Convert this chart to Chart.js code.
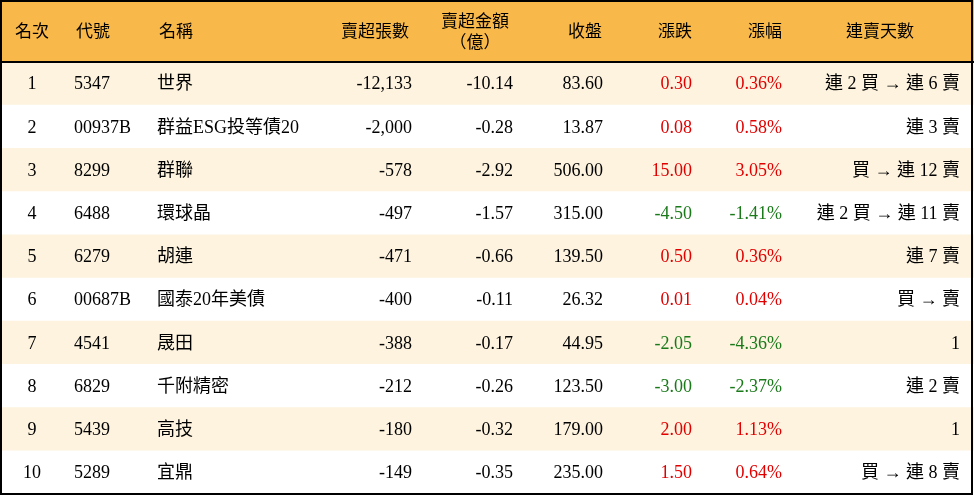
<!DOCTYPE html>
<html><head><meta charset="utf-8">
<script src="https://cdn.jsdelivr.net/npm/chart.js@4/dist/chart.umd.min.js"></script>
<style>html,body{margin:0;padding:0;background:#fff}#w{width:974px;height:496px}</style>
</head><body><div id="w"><canvas id="c"></canvas></div>
<script>
const headers = ["名次","代號","名稱","賣超張數","賣超金額\n（億）","收盤","漲跌","漲幅","連賣天數"];
const ranks = ["1","2","3","4","5","6","7","8","9","10"];
const codes = ["5347","00937B","8299","6488","6279","00687B","4541","6829","5439","5289"];
const names = ["世界","群益ESG投等債20","群聯","環球晶","胡連","國泰20年美債","晟田","千附精密","高技","宜鼎"];
const sellLots = [-12133,-2000,-578,-497,-471,-400,-388,-212,-180,-149];
const sellAmt = [-10.14,-0.28,-2.92,-1.57,-0.66,-0.11,-0.17,-0.26,-0.32,-0.35];
const closes = [83.60,13.87,506.00,315.00,139.50,26.32,44.95,123.50,179.00,235.00];
const changes = [0.30,0.08,15.00,-4.50,0.50,0.01,-2.05,-3.00,2.00,1.50];
const pcts = [0.36,0.58,3.05,-1.41,0.36,0.04,-4.36,-2.37,1.13,0.64];
const streaks = ["連 2 買 → 連 6 賣","連 3 賣","買 → 連 12 賣","連 2 買 → 連 11 賣","連 7 賣","買 → 賣","1","連 2 賣","1","買 → 連 8 賣"];

const cols = [[32,'center'],[74,'left'],[157,'left'],[412,'right'],[513,'right'],[603,'right'],[692,'right'],[782,'right'],[960,'right']];
const headX = [32,93,176,375,475,585,675,765,880];
const HEAD_H = 62;
const serif = '"Liberation Serif","Noto Sans CJK TC",serif';
const cjk = '"Noto Sans CJK TC",sans-serif';

function fmtInt(v){return v.toLocaleString('en-US');}
function col(v){return v>0?'#e00000':(v<0?'#1a7a1a':'#000');}

const tablePlugin = {
  id:'table',
  beforeDraw(chart){
    const ctx=chart.ctx;
    ctx.save();ctx.fillStyle='#fff';ctx.fillRect(0,0,chart.width,chart.height);
    ctx.fillStyle='#f8b84a';ctx.fillRect(0,0,chart.width,HEAD_H);ctx.restore();
  },
  afterDatasetsDraw(chart){
    const ctx=chart.ctx, y=chart.scales.y, x=chart.scales.x;
    ctx.save();
    ctx.textBaseline='middle';
    ctx.fillStyle='#000';
    ctx.font='17px '+cjk;
    headers.forEach((h,i)=>{
      ctx.textAlign='center';
      const lines=h.split('\n');
      if(lines.length===1) ctx.fillText(h,headX[i],31);
      else{ctx.fillText(lines[0],headX[i],21);ctx.fillText(lines[1],headX[i],42);}
    });
    ranks.forEach((r,i)=>{
      const py=y.getPixelForValue(i);
      const cells=[
        [r,'#000'],[codes[i],'#000'],[names[i],'#000'],
        [fmtInt(sellLots[i]),'#000'],[sellAmt[i].toFixed(2),'#000'],[closes[i].toFixed(2),'#000'],
        [changes[i].toFixed(2),col(changes[i])],[pcts[i].toFixed(2)+'%',col(pcts[i])],[streaks[i],'#000']
      ];
      cells.forEach((c,j)=>{
        ctx.font='18px '+serif;
        ctx.fillStyle=c[1];ctx.textAlign=cols[j][1];
        ctx.fillText(c[0],x.getPixelForValue(cols[j][0]),py+1);
      });
    });
    ctx.strokeStyle='#000';ctx.lineWidth=2;
    ctx.beginPath();ctx.moveTo(0,HEAD_H);ctx.lineTo(chart.width,HEAD_H);ctx.stroke();
    ctx.strokeRect(1,1,chart.width-3,chart.height-3);
    ctx.restore();
  }
};

new Chart(document.getElementById('c'),{
  type:'bar',
  data:{labels:ranks,datasets:[{
    data:ranks.map(()=>[0,974]),
    backgroundColor:ranks.map((_,i)=>i%2===0?'#fdf3df':'#ffffff'),
    borderWidth:0,barPercentage:1,categoryPercentage:1
  }]},
  options:{
    indexAxis:'y',responsive:true,maintainAspectRatio:false,animation:false,
    layout:{padding:{top:HEAD_H,bottom:2,left:0,right:0}},
    plugins:{legend:{display:false},tooltip:{enabled:false}},
    scales:{
      x:{type:'linear',min:0,max:974,display:false},
      y:{type:'category',display:false,offset:true}
    }
  },
  plugins:[tablePlugin]
});
</script></body></html>
